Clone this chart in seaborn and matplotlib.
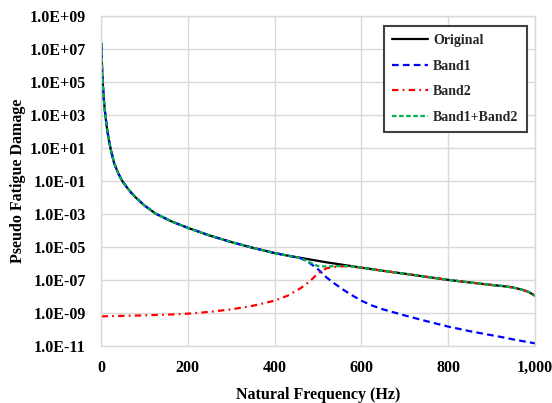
import numpy as np
import pandas as pd
import matplotlib
matplotlib.use("Agg")
import matplotlib.pyplot as plt
import seaborn as sns
from matplotlib.ticker import FuncFormatter, FixedLocator, NullLocator
from matplotlib.lines import Line2D

# ---------------- data ----------------
freq = [1, 2, 3, 4, 6, 8, 10, 14, 18, 22, 30, 40, 49, 60, 70, 80, 100, 126, 160,
        200, 250, 300, 350, 400, 430, 460, 480, 500, 520, 540, 560, 580, 600,
        625, 650, 700, 750, 800, 850, 900, 925, 950, 970, 985, 1000]

original = [2.2e7, 1.6e6, 2.8e5, 9.3e4, 1.26e4, 3.2e3, 1.0e3, 1.4e2, 3.2e1, 9.3e0,
            1.26e0, 2.8e-1, 1.0e-1, 4.0e-2, 1.9e-2, 1.0e-2, 3.3e-3, 1.05e-3,
            3.8e-4, 1.45e-4, 5.0e-5, 2.0e-5, 8.9e-6, 4.3e-6, 3.0e-6, 2.2e-6,
            1.78e-6, 1.45e-6, 1.17e-6, 9.8e-7, 8.1e-7, 6.8e-7, 5.6e-7,
            4.5e-7, 3.6e-7, 2.4e-7, 1.55e-7, 1.02e-7, 7.1e-8, 5.0e-8, 4.3e-8,
            3.5e-8, 2.6e-8, 1.9e-8, 1.12e-8]

band1 = [2.2e7, 1.6e6, 2.8e5, 9.3e4, 1.26e4, 3.2e3, 1.0e3, 1.4e2, 3.2e1, 9.3e0,
         1.26e0, 2.8e-1, 1.0e-1, 4.0e-2, 1.9e-2, 1.0e-2, 3.3e-3, 1.05e-3,
         3.8e-4, 1.45e-4, 5.0e-5, 2.0e-5, 8.9e-6, 4.3e-6, 3.0e-6, 2.1e-6,
         1.12e-6, 4.5e-7, 1.4e-7, 5.6e-8, 2.4e-8, 1.12e-8, 5.6e-9,
         2.8e-9, 1.66e-9, 7.1e-10, 3.2e-10, 1.5e-10, 7.9e-11, 4.5e-11, 3.4e-11,
         2.5e-11, 2.0e-11, 1.7e-11, 1.45e-11]

band2 = [6.3e-10, 6.3e-10, 6.3e-10, 6.3e-10, 6.3e-10, 6.3e-10, 6.3e-10, 6.4e-10,
         6.4e-10, 6.5e-10, 6.5e-10, 6.6e-10, 6.7e-10, 6.8e-10, 6.9e-10, 7.0e-10,
         7.2e-10, 7.6e-10, 8.1e-10, 9.1e-10, 1.17e-9, 1.66e-9, 2.75e-9, 5.6e-9,
         1.12e-8, 3.2e-8, 7.9e-8, 2.5e-7, 5.2e-7, 6.3e-7, 6.8e-7, 6.6e-7,
         5.5e-7, 4.5e-7, 3.6e-7, 2.4e-7, 1.55e-7, 1.02e-7, 7.1e-8, 5.0e-8,
         4.3e-8, 3.5e-8, 2.6e-8, 1.9e-8, 1.12e-8]

band12 = [2.2e7, 1.6e6, 2.8e5, 9.3e4, 1.26e4, 3.2e3, 1.0e3, 1.4e2, 3.2e1, 9.3e0,
          1.26e0, 2.8e-1, 1.0e-1, 4.0e-2, 1.9e-2, 1.0e-2, 3.3e-3, 1.05e-3,
          3.8e-4, 1.45e-4, 5.0e-5, 2.0e-5, 8.9e-6, 4.3e-6, 3.0e-6, 2.1e-6,
          1.2e-6, 7.0e-7, 6.6e-7, 6.9e-7, 7.1e-7, 6.7e-7, 5.6e-7,
          4.5e-7, 3.6e-7, 2.4e-7, 1.55e-7, 1.02e-7, 7.1e-8, 5.0e-8, 4.3e-8,
          3.5e-8, 2.6e-8, 1.9e-8, 1.12e-8]

series_names = ["Original", "Band1", "Band2", "Band1+Band2"]
xticks = [0, 200, 400, 600, 800, 1000]
yticks = [1e-11, 1e-9, 1e-7, 1e-5, 1e-3, 1e-1, 1e1, 1e3, 1e5, 1e7, 1e9]

# ---------------- style ----------------
sns.set_theme(style="whitegrid")
plt.rcParams["font.family"] = ["Liberation Serif", "DejaVu Serif"]
plt.rcParams["font.weight"] = "bold"

fig = plt.figure(figsize=(5.52, 4.03), dpi=100)
ax = fig.add_axes([101 / 552, 1 - 346 / 403, 434 / 552, 330 / 403])

df = pd.DataFrame({"freq": freq, "Original": original, "Band1": band1,
                   "Band2": band2, "Band1+Band2": band12})

lw = 1.6
styles = {
    "Original": dict(color="black", dashes=None),
    "Band1": dict(color="#0000FF", dashes=(3.0, 1.9)),
    "Band2": dict(color="#FF0000", dashes=(2.9, 1.9, 0.8, 1.9)),
    "Band1+Band2": dict(color="#00B050", dashes=(2.0, 1.2)),
}

for name in series_names:
    st = styles[name]
    sns.lineplot(data=df, x="freq", y=name, ax=ax, legend=False,
                 color=st["color"], linewidth=lw)
    ln = ax.lines[-1]
    if st["dashes"] is not None:
        ln.set_dashes(st["dashes"])

ax.set_yscale("log")
ax.set_xlim(0, 1000)
ax.set_ylim(1e-11, 1e9)
ax.yaxis.set_major_locator(FixedLocator(yticks))
ax.yaxis.set_minor_locator(NullLocator())
ax.yaxis.set_major_formatter(FuncFormatter(lambda v, p: "{:.1E}".format(v)))
ax.xaxis.set_major_locator(FixedLocator(xticks))
ax.xaxis.set_major_formatter(FuncFormatter(lambda v, p: "{:,.0f}".format(v)))

ax.grid(True, color="#D9D9D9", linewidth=1.0)
for s in ax.spines.values():
    s.set_color("#D9D9D9")
    s.set_linewidth(1.0)
ax.set_facecolor("white")
fig.patch.set_facecolor("white")

ax.tick_params(axis="both", length=0, labelsize=11.5, labelcolor="black")
ax.tick_params(axis="y", pad=11)
ax.tick_params(axis="x", pad=10)
for lab in ax.get_xticklabels() + ax.get_yticklabels():
    lab.set_fontweight("bold")

ax.set_xlabel("Natural Frequency (Hz)", fontsize=11.5, fontweight="bold", color="black")
ax.set_ylabel("Pseudo Fatigue Damage", fontsize=11.5, fontweight="bold", color="black")
ax.yaxis.set_label_coords(-0.172, 0.5)
ax.xaxis.labelpad = 8

handles = []
for name in series_names:
    st = styles[name]
    h = Line2D([0], [0], color=st["color"], linewidth=lw)
    if st["dashes"] is not None:
        h.set_dashes(st["dashes"])
    handles.append(h)

leg = ax.legend(handles, series_names, loc="upper right",
                bbox_to_anchor=((527 - 101) / 434, (346 - 25.7) / 330),
                borderaxespad=0, fancybox=False, frameon=True,
                prop=dict(family=["Liberation Serif"], weight="bold", size=10),
                handlelength=2.6, handletextpad=0.35, labelspacing=0.9,
                borderpad=0.6)
leg.get_frame().set_edgecolor("#404040")
leg.get_frame().set_linewidth(1.5)
leg.get_frame().set_facecolor("white")
leg.get_frame().set_alpha(1.0)

fig.savefig("out.png", dpi=100, facecolor="white")
